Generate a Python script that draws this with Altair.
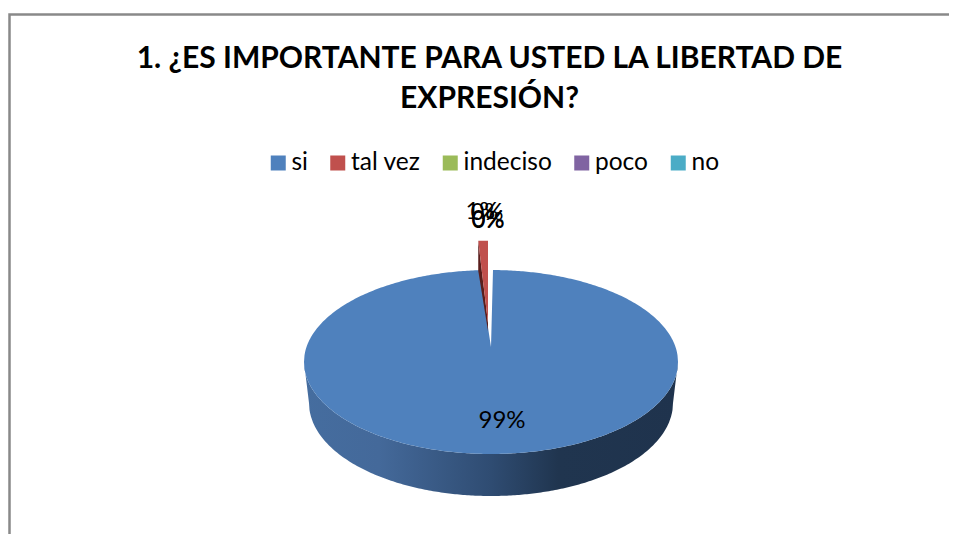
import numpy as np
import pandas as pd
import altair as alt

categories = ["si", "tal vez", "indeciso", "poco", "no"]
values = [99, 1, 0, 0, 0]
colors = ["#4F81BD", "#C0504D", "#9BBB59", "#8064A2", "#4BACC6"]
title_lines = ["1. ¿ES IMPORTANTE PARA USTED LA LIBERTAD DE", "EXPRESIÓN?"]

W, H = 941, 526
FONT = "Lato"
CX, CY, RX, RY = 491, 362, 187, 92
APEX_Y = 347
BX, BY, BRX, BRY = 491, 403, 182, 93

share = values[1] / sum(values)
gap_angle = 2 * np.pi * share
notch_x = CX - RX * np.sin(gap_angle)
notch_y = CY - RY * np.cos(gap_angle)

xs = np.concatenate([np.linspace(CX - RX, CX - RX + 6, 13), np.arange(CX - RX + 7, CX + RX - 6, 2.0),
                     np.linspace(CX + RX - 6, CX + RX, 13)])

def upper(x):
    return CY - RY * np.sqrt(np.clip(1 - ((x - CX) / RX) ** 2, 0, 1))

def lower(x):
    return CY + RY * np.sqrt(np.clip(1 - ((x - CX) / RX) ** 2, 0, 1))

def wall_bottom(x):
    t = np.clip(np.abs(x - BX) / BRX, 0, 1)
    base = BY + BRY * np.sqrt(1 - t ** 2)
    outer = np.where(np.abs(x - BX) > BRX,
                     CY + (BY - CY) * (RX - np.abs(x - BX)) / (RX - BRX), base)
    return outer

# wall
wall = pd.DataFrame({"x": xs, "y": lower(xs), "y2": wall_bottom(xs)})

# top face with the notch left by the pulled-out slice
top_x = np.sort(np.unique(np.concatenate([xs, [notch_x, CX - 0.01, CX]])))
top_y = upper(top_x)
mask = (top_x >= notch_x) & (top_x <= CX)
top_y[mask] = notch_y + (APEX_Y - notch_y) * (top_x[mask] - notch_x) / (CX - notch_x)
top = pd.DataFrame({"x": top_x, "y": top_y, "y2": lower(top_x)})

# pulled-out slice
SLICE_DX, SLICE_DY = -3, -30
sx0, sx1 = notch_x + SLICE_DX + 2, CX + SLICE_DX
sy = notch_y + SLICE_DY + 0.5
tip_y = APEX_Y + SLICE_DY + 6
slice_x = np.array([sx0, sx1])
red = pd.DataFrame({"x": slice_x, "y": [sy, sy], "y2": [sy, tip_y]})
dark2 = pd.DataFrame({"x": [sx0, sx1], "y": [sy, tip_y], "y2": [sy + 30, tip_y + 8]})

xs_scale = alt.Scale(domain=[8, 8 + W], range=[0, W], nice=False, zero=False)
ys_scale = alt.Scale(domain=[8 + H, 8], range=[H, 0], nice=False, zero=False)
X = alt.X("x:Q", scale=xs_scale, axis=None)
Y = alt.Y("y:Q", scale=ys_scale, axis=None)
Y2 = alt.Y2("y2:Q")

wall_fill = alt.Gradient(gradient="linear", x1=0, x2=1, y1=0, y2=0, stops=[
    alt.GradientStop(color="#456D9F", offset=0),
    alt.GradientStop(color="#44699A", offset=0.2),
    alt.GradientStop(color="#2F4C72", offset=0.5),
    alt.GradientStop(color="#20354F", offset=0.68),
    alt.GradientStop(color="#1F334D", offset=1),
])

frame = alt.Chart(pd.DataFrame({"x": [9.5], "y": [14.5], "x2": [8 + W + 20], "y2": [8 + H + 20]})).mark_rect(
    fill="white", stroke="#898989", strokeWidth=2.5, clip=True
).encode(x=X, y=Y, x2="x2:Q", y2=Y2)

title_df = pd.DataFrame({"x": [489.5, 489.5], "y": [59, 99], "t": title_lines})
title = alt.Chart(title_df).mark_text(font=FONT, fontWeight="bold", fontSize=30, color="black").encode(
    x=X, y=Y, text="t:N")

labels_df = pd.DataFrame({"x": [502, 482, 487, 488, 488], "y": [421, 212, 213, 220, 221],
                          "t": [f"{v}%" for v in values]})
labels = alt.Chart(labels_df).mark_text(font=FONT, fontSize=24, color="black").encode(x=X, y=Y, text="t:N")

legend_src = alt.Chart(pd.DataFrame({"c": categories, "x": [100] * 5, "y": [100] * 5})).mark_square(size=0).encode(
    x=X, y=Y,
    color=alt.Color("c:N", scale=alt.Scale(domain=categories, range=colors), legend=alt.Legend(
        orient="none", legendX=258, legendY=140, direction="horizontal", columns=5, title=None,
        symbolType="square", symbolSize=225, symbolStrokeWidth=0, symbolOpacity=1,
        labelFont=FONT, labelFontSize=24.5, labelColor="black", columnPadding=17.5, labelOffset=1,
        symbolOffset=0, clipHeight=30,
    )),
)

chart = alt.layer(
    frame,
    alt.Chart(wall).mark_area(color=wall_fill).encode(x=X, y=Y, y2=Y2),
    alt.Chart(top).mark_area(color=colors[0]).encode(x=X, y=Y, y2=Y2),
    alt.Chart(dark2).mark_area(color="#5A1E1C").encode(x=X, y=Y, y2=Y2),
    alt.Chart(red).mark_area(color=colors[1]).encode(x=X, y=Y, y2=Y2),
    legend_src, title, labels,
).properties(width=W, height=H, padding=0, autosize=alt.AutoSizeParams(type="none")).configure_view(stroke=None)

chart.save("out.html", embed_options={"renderer": "svg", "actions": False})
